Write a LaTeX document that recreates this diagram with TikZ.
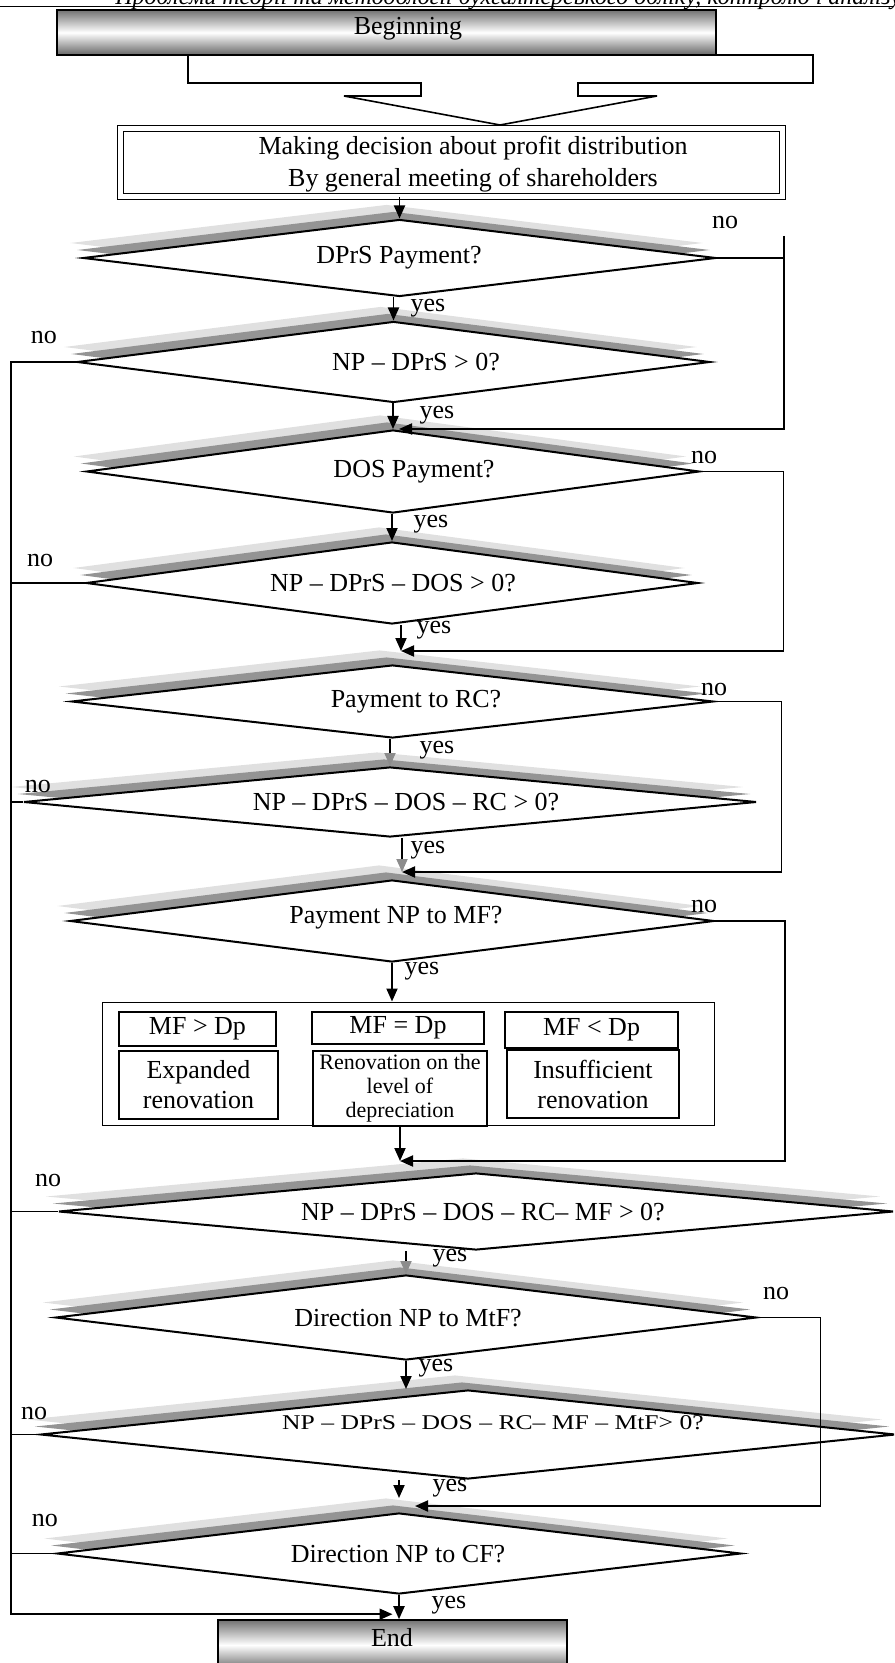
\documentclass[tikz,border=0pt]{standalone}
\usepackage{fontspec}
\setmainfont{Liberation Serif}
\usetikzlibrary{positioning, arrows.meta, shapes.geometric, shadows}

\begin{document}
\begin{tikzpicture}[x=0.5pt, y=-0.5pt,
    every node/.style={inner sep=0pt, font=\fontsize{13}{15}\selectfont},
    flow/.style={line width=0.95pt, -{Triangle[length=6.5pt, width=5.5pt]}},
    dimflow/.style={line width=0.95pt, -{Triangle[length=6.5pt, width=5.5pt, color=black!45]}},
    link/.style={line width=0.95pt},
    terminal/.style={draw, line width=0.8pt, top color=black!55, bottom color=black!60, middle color=white},
    decision/.style={diamond, draw, line width=1pt, fill=white,
        general shadow={draw=none, fill=black!12, shadow xshift=-6.5pt, shadow yshift=7.5pt},
        general shadow={draw=none, fill=black!42, shadow xshift=-3pt, shadow yshift=4pt}},
    cell/.style={draw, line width=0.6pt, align=center}
  ]
    \useasboundingbox (0,0) rectangle (894,1663);
    \clip (0,0) rectangle (894,1663);

    % page header, cut off at the top
    \node[anchor=base west, font=\fontsize{12}{14}\selectfont\itshape] (head) at (115,4.5)
        {Проблеми теорії та методології бухгалтерського обліку, контролю і аналізу};
    \draw[line width=0.7pt] (0,6.7) -- (894,6.7);

    % start and the decision of the meeting
    \node[terminal, minimum width=329.5pt, minimum height=22.5pt] (start) at (386.5,32.5) {};
    \node (startT) at (408,29) {Beginning};
    \draw[line width=0.8pt] (188,55) -- (188,83) -- (421,83) -- (421,96) -- (344,96) -- (500,125)
        -- (657,96) -- (578,96) -- (578,83) -- (813,83) -- (813,55) -- (716,55);
    \node[draw, double, double distance=2.3pt, line width=0.7pt, minimum width=331pt, minimum height=34pt] (decide) at (451.5,162.5) {};
    \node[align=center, font=\fontsize{13}{16}\selectfont] (decideT) at (473,164)
        {Making decision about profit distribution\\By general meeting of shareholders};

    % decisions
    \node[decision, minimum width=316.5pt, minimum height=38.5pt] (dprs) at (399.5,258) {};
    \node[decision, minimum width=316.5pt, minimum height=40.5pt] (npdprs) at (393.5,362) {};
    \node[decision, minimum width=306.5pt, minimum height=41.5pt] (dos) at (393,471.5) {};
    \node[decision, minimum width=306pt, minimum height=41pt] (npdos) at (392,583) {};
    \node[decision, minimum width=321pt, minimum height=36.5pt] (rc) at (392.5,701.5) {};
    \node[decision, minimum width=366.5pt, minimum height=35pt] (nprc) at (390,802) {};
    \node[decision, minimum width=322pt, minimum height=41pt] (mf) at (392,921) {};
    \node[decision, minimum width=417.5pt, minimum height=38.5pt] (npmf) at (476,1211.5) {};
    \node[decision, minimum width=350.5pt, minimum height=42.5pt] (mtf) at (406,1317.5) {};
    \node[decision, minimum width=427.5pt, minimum height=44.5pt] (npmtf) at (468,1434.5) {};
    \node[decision, minimum width=342pt, minimum height=40.5pt] (cf) at (399,1553.5) {};

    \node (dprsT) at (399,258) {DPrS Payment?};
    \node (npdprsT) at (416,362) {NP – DPrS > 0?};
    \node (dosT) at (414,472) {DOS Payment?};
    \node (npdosT) at (393,583) {NP – DPrS – DOS > 0?};
    \node (rcT) at (416,702) {Payment to RC?};
    \node (nprcT) at (406,802) {NP – DPrS – DOS – RC > 0?};
    \node (mfT) at (396,918) {Payment NP to MF?};
    \node (npmfT) at (483,1212) {NP – DPrS – DOS – RC– MF > 0?};
    \node (mtfT) at (408,1318) {Direction NP to MtF?};
    \node[font=\fontsize{10.5}{12}\selectfont\addfontfeature{FakeStretch=1.22}] (npmtfT) at (493,1423) {NP – DPrS – DOS – RC– MF – MtF> 0?};
    \node (cfT) at (398,1554) {Direction NP to CF?};

    % renovation variants
    \node[draw, line width=0.5pt, minimum width=306pt, minimum height=61.5pt] (mfbox) at (408,1063.5) {};
    \node[cell, minimum width=78.5pt, minimum height=17pt] (gt) at (197.5,1029) {MF > Dp};
    \node[cell, minimum width=79.5pt, minimum height=34pt] (gtT) at (198.5,1085) {Expanded\\renovation};
    \node[cell, minimum width=86pt, minimum height=16pt] (eq) at (398,1028) {MF = Dp};
    \node[cell, minimum width=87pt, minimum height=37.5pt, font=\fontsize{11}{12}\selectfont] (eqT) at (400,1088.5) {Renovation on the\\level of\\depreciation};
    \node[cell, minimum width=86.5pt, minimum height=18pt] (lt) at (591.5,1030) {MF < Dp};
    \node[cell, minimum width=86pt, minimum height=34pt] (ltT) at (593,1084) {Insufficient\\renovation};

    \node[terminal, minimum width=174.5pt, minimum height=25pt] (finish) at (392.5,1645) {};
    \node (finishT) at (392,1638) {End};

    % yes / no marks
    \foreach \n/\x/\y in {y1/428/308, y2/437/415, y3/431/524, y4/434/630, y5/437/750,
                          y6/428/850, y7/422/971, y8/450/1258, y9/436/1368, y10/450/1488, y11/449/1605}
        \node (\n) at (\x,\y) {yes};
    \foreach \n/\x/\y in {n1/725/223, n2/44/338, n3/704/458, n4/40/560, n5/714/689, n6/38/786,
                          n7/704/906, n8/48/1180, n9/776/1293, n10/34/1413, n11/45/1520}
        \node (\n) at (\x,\y) {no};

    % connectors
    \draw[flow] (dprs.north |- decide.south) -- (dprs.north);
    \draw[flow] (npdprs.north |- dprs.south) -- (npdprs.north);
    \draw[flow] (dos.north |- npdprs.south) -- (dos.north);
    \coordinate (rbus) at (784,236);
    \draw[link] (dprs.east) -- (dprs.east -| rbus);
    \draw[flow] (rbus) |- ([xshift=3pt]dos.north);
    \draw[flow] (npdos.north |- dos.south) -- (npdos.north);
    \coordinate (joinRC) at (401,651);
    \draw[flow] (dos.east) -- ++(83,0) |- (joinRC);
    \draw[flow] (joinRC |- npdos.south) -- (joinRC);
    \draw[dimflow] (nprc.north |- rc.south) -- (nprc.north);
    \coordinate (joinMF) at (402,872);
    \draw[flow] (rc.east) -- ++(67,0) |- (joinMF);
    \draw[dimflow] (joinMF |- nprc.south) -- (joinMF);
    \draw[flow] (mf.south) -- (mf.south |- mfbox.north);
    \coordinate (joinNP) at (400,1161);
    \draw[flow] (mf.east) -- ++(70,0) |- (joinNP);
    \draw[flow] (joinNP |- mfbox.south) -- (joinNP);
    \draw[dimflow] (mtf.north |- npmf.south) -- (mtf.north);
    \draw[flow] (mtf.south) -- (mtf.south |- npmtf.north);
    \draw[flow] (mtf.east) -- ++(63,0) |- ([xshift=8pt, yshift=3pt]cf.north);
    \draw[flow] (cf.north |- npmtf.south) -- ([yshift=7pt]cf.north);
    \draw[flow] (cf.south) -- (cf.south |- finish.north);
    \coordinate (lbus) at (11,362);
    \draw[flow] (npdprs.west) -- (lbus) |- ([yshift=2.5pt]finish.north);
    \foreach \d in {npdos, nprc, npmf, npmtf, cf}
        \draw[link] (\d.west) -- (\d.west -| lbus);
\end{tikzpicture}
\end{document}
